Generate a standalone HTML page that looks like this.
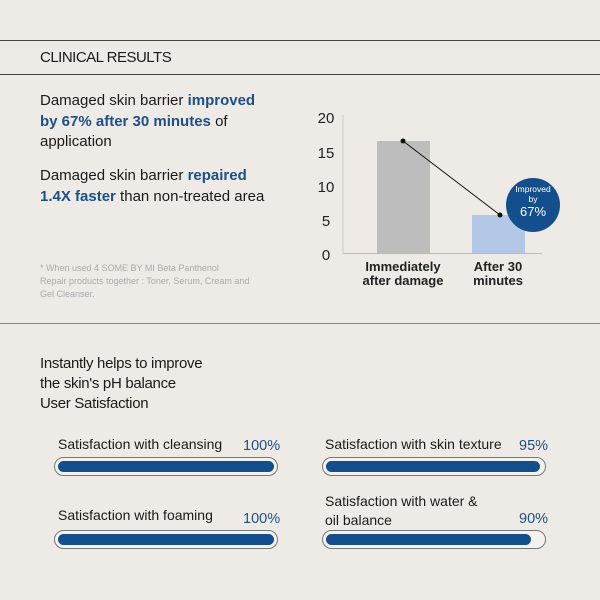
<!DOCTYPE html>
<html><head><style>
body{margin:0;width:600px;height:600px;background:#eeebe7;position:relative;overflow:hidden;font-family:"Liberation Sans",sans-serif;color:#1a1a1a}
.a{position:absolute;white-space:nowrap}
.hl{position:absolute;left:0;width:600px;height:1px;background:#444}
b{color:#1e4f85}
.bar{position:absolute;width:224px;height:19px;border:1px solid #777;border-radius:11px;box-sizing:border-box;background:#f4f2ef}
.bar i{position:absolute;left:3px;top:3px;bottom:3px;border-radius:7px;background:#124f8c}
.lab{font-size:14px}
.pct{font-size:14.5px;color:#1e4f85}
</style></head><body>
<div class="hl" style="top:40px"></div>
<div class="hl" style="top:74px"></div>
<div class="hl" style="top:323px;background:#888"></div>
<div class="a" style="left:40px;top:49px;font-size:15px;letter-spacing:-0.5px">CLINICAL RESULTS</div>
<div class="a" style="left:40px;top:91px;font-size:15px;line-height:20.5px">Damaged skin barrier <b>improved</b><br><b>by 67% after 30 minutes</b> of<br>application</div>
<div class="a" style="left:40px;top:166px;font-size:15px;line-height:20.5px">Damaged skin barrier <b>repaired</b><br><b>1.4X faster</b> than non-treated area</div>
<div class="a" style="left:40px;top:262px;font-size:9px;line-height:13px;color:#aaa">* When used 4 SOME BY MI Beta Panthenol<br>Repair products together : Toner, Serum, Cream and<br>Gel Cleanser.</div>
<svg class="a" style="left:0;top:0" width="600" height="323">
<g font-family="Liberation Sans" font-size="15" fill="#222" text-anchor="middle">
<text x="326" y="123">20</text><text x="326" y="158">15</text><text x="326" y="192">10</text><text x="326" y="226">5</text><text x="326" y="260">0</text>
</g>
<line x1="343" y1="115" x2="343" y2="254" stroke="#ccc"/>
<line x1="343" y1="253.5" x2="542" y2="253.5" stroke="#bbb"/>
<rect x="377" y="141" width="53" height="112" fill="#bdbdbd"/>
<rect x="472" y="215" width="53" height="38" fill="#b3c7e6"/>
<line x1="403" y1="141" x2="500" y2="215" stroke="#111" stroke-width="1"/>
<circle cx="403" cy="141" r="2.5" fill="#111"/><circle cx="500" cy="215" r="2.5" fill="#111"/>
<circle cx="533" cy="205" r="27" fill="#124f8c"/>
<g fill="#fff" text-anchor="middle" font-family="Liberation Sans">
<text x="533" y="192" font-size="8.5">Improved</text><text x="533" y="202" font-size="8.5">by</text><text x="533" y="216" font-size="13">67%</text>
</g>
<g font-family="Liberation Sans" font-size="13" font-weight="bold" fill="#222" text-anchor="middle">
<text x="403" y="271">Immediately</text><text x="403" y="285">after damage</text>
<text x="498" y="271">After 30</text><text x="498" y="285">minutes</text>
</g>
</svg>
<div class="a" style="left:40px;top:354px;font-size:15px;line-height:20px;letter-spacing:-0.3px">Instantly helps to improve<br>the skin's pH balance<br>User Satisfaction</div>
<div class="a lab" style="left:58px;top:436px">Satisfaction with cleansing</div>
<div class="a pct" style="left:243px;top:438px">100%</div>
<div class="bar" style="left:54px;top:457px"><i style="right:3px"></i></div>
<div class="a lab" style="left:58px;top:507px">Satisfaction with foaming</div>
<div class="a pct" style="left:243px;top:511px">100%</div>
<div class="bar" style="left:54px;top:530px"><i style="right:3px"></i></div>
<div class="a lab" style="left:325px;top:436px">Satisfaction with skin texture</div>
<div class="a pct" style="left:519px;top:438px">95%</div>
<div class="bar" style="left:322px;top:457px"><i style="right:5px"></i></div>
<div class="a lab" style="left:325px;top:492px;line-height:19px">Satisfaction with water &amp;<br>oil balance</div>
<div class="a pct" style="left:519px;top:511px">90%</div>
<div class="bar" style="left:322px;top:530px"><i style="right:14px"></i></div>
</body></html>
